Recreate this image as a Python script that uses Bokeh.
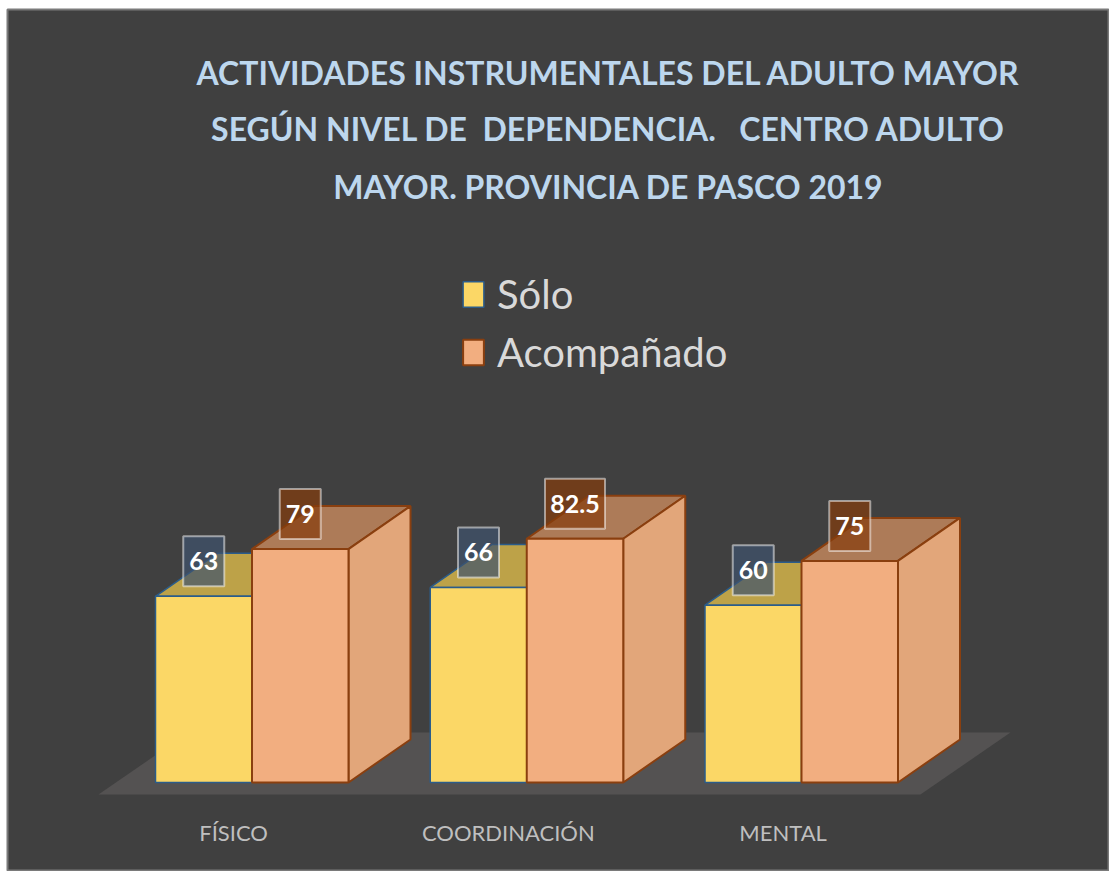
from bokeh.plotting import figure
from bokeh.models import Range1d, Label, Legend, LegendItem
from bokeh.core.properties import value
from bokeh.embed import file_html
from bokeh.resources import INLINE

# ---------------- data ----------------
categories = ["FÍSICO", "COORDINACIÓN", "MENTAL"]
series_names = ["Sólo", "Acompañado"]
solo = [63, 66, 60]
acompanado = [79, 82.5, 75]
solo_labels = ["63", "66", "60"]
acomp_labels = ["79", "82.5", "75"]
title_lines = [
    "ACTIVIDADES INSTRUMENTALES DEL ADULTO MAYOR",
    "SEGÚN NIVEL DE \u00a0DEPENDENCIA. \u00a0 CENTRO ADULTO",
    "MAYOR. PROVINCIA DE PASCO 2019",
]

# ---------------- layout (pixels) ----------------
FIG_W, FIG_H = 1109, 871
B_LEFT, B_TOP, B_RIGHT = 7, 9, 1
W = FIG_W - B_LEFT - B_RIGHT       # frame width
H = FIG_H - B_TOP                  # frame height
PX_PER_CAT = 274.75
PX_PER_UNIT = 2.955
ORIGIN_X = 251.5 - B_LEFT          # pixel x of category 0 centre within frame
ORIGIN_Y = 782 - B_TOP             # pixel y of value 0 within frame (from top)

x0 = -ORIGIN_X / PX_PER_CAT
x1 = x0 + W / PX_PER_CAT
y1 = ORIGIN_Y / PX_PER_UNIT
y0 = y1 - H / PX_PER_UNIT

BAR_W = 96.5 / PX_PER_CAT
DX = 62 / PX_PER_CAT
DY = 43 / PX_PER_UNIT

FONT_NAME = "Lato"
FONT = value(FONT_NAME)
BG = "#404040"

p = figure(width=FIG_W, height=FIG_H, output_backend="svg", toolbar_location=None,
           x_range=Range1d(x0, x1), y_range=Range1d(y0, y1),
           min_border_left=B_LEFT, min_border_top=B_TOP,
           min_border_right=B_RIGHT, min_border_bottom=0,
           background_fill_color=BG, border_fill_color="white",
           outline_line_color="#7a7a7a", outline_line_width=2)
p.axis.visible = False
p.xgrid.visible = False
p.ygrid.visible = False

# floor
n = len(categories)
fl_left = -0.5587
fl_right = (n - 1) + 0.433
fl_front = -12 / PX_PER_UNIT
fl_depth_x = 90 / PX_PER_CAT
fl_depth_y = 62 / PX_PER_UNIT
p.patch([fl_left, fl_right, fl_right + fl_depth_x, fl_left + fl_depth_x],
        [fl_front, fl_front, fl_front + fl_depth_y, fl_front + fl_depth_y],
        fill_color="#545252", line_color=None)


def draw_series(vals, offset, front_col, top_col, side_col, edge_col, edge_w):
    lefts = [i + offset for i in range(len(vals))]
    rights = [l + BAR_W for l in lefts]
    tops_xs = [[l, r, r + DX, l + DX] for l, r in zip(lefts, rights)]
    tops_ys = [[v, v, v + DY, v + DY] for v in vals]
    side_xs = [[r, r + DX, r + DX, r] for r in rights]
    side_ys = [[0, DY, v + DY, v] for v in vals]
    p.patches(tops_xs, tops_ys, fill_color=top_col, line_color=edge_col, line_width=edge_w)
    p.patches(side_xs, side_ys, fill_color=side_col, line_color=edge_col, line_width=edge_w)
    r = p.quad(left=lefts, right=rights, bottom=[0] * len(vals), top=vals,
               fill_color=front_col, line_color=edge_col, line_width=edge_w)
    return r, lefts, rights


r_solo, sl, sr = draw_series(solo, -BAR_W, "#fbd766", "#bda248", "#d9b84f", "#2b5c8a", 1.5)
r_acomp, al, ar = draw_series(acompanado, 0.0, "#f2ae80", "#ad7b58", "#e2a67a", "#8a3f0f", 2)

# data labels
LABEL_OFF = 35 / PX_PER_UNIT
for vals, labels, lefts, fill in [(solo, solo_labels, sl, "#3f536e"),
                                   (acompanado, acomp_labels, al, "#843c0c")]:
    cx = [l + BAR_W / 2 for l in lefts]
    cy = [v + LABEL_OFF for v in vals]
    widths = [41 + (len(t) - 2) * 9.5 for t in labels]
    p.rect(x=cx, y=cy, width=widths, height=[50] * len(vals),
           width_units="screen", height_units="screen",
           fill_color=fill, fill_alpha=0.7, line_color="white", line_alpha=0.5, line_width=2)
    p.text(x=cx, y=cy, text=labels, text_align="center", text_baseline="middle",
           text_color="white", text_font=FONT, text_font_style="bold", text_font_size="25px")

# category labels
cat_x = [i - 0.067 for i in range(n)]
cat_y = [-(832 - 782) / PX_PER_UNIT] * n
p.text(x=cat_x, y=cat_y, text=categories, text_align="center", text_baseline="middle",
       text_color="#bfbfbf", text_font=FONT, text_font_size="22px")

# title
for line, py in zip(title_lines, [72, 128, 186]):
    p.add_layout(Label(x=608 - B_LEFT, y=FIG_H - py, x_units="screen", y_units="screen",
                       text=line, text_align="center", text_baseline="middle",
                       text_color="#bdd7ee", text_font=FONT_NAME, text_font_style="bold",
                       text_font_size="32px"))

# legend
legend = Legend(items=[LegendItem(label=series_names[0], renderers=[r_solo]),
                       LegendItem(label=series_names[1], renderers=[r_acomp])],
                location=(453, FIG_H - 379), orientation="vertical",
                glyph_width=26, glyph_height=32, label_standoff=11,
                label_text_font=FONT_NAME, label_text_font_size="40px", label_text_color="#d9d9d9",
                label_height=54, spacing=4, padding=0, margin=0,
                background_fill_alpha=0, border_line_color=None)
p.add_layout(legend)

open("out.html", "w").write(file_html(p, INLINE))
